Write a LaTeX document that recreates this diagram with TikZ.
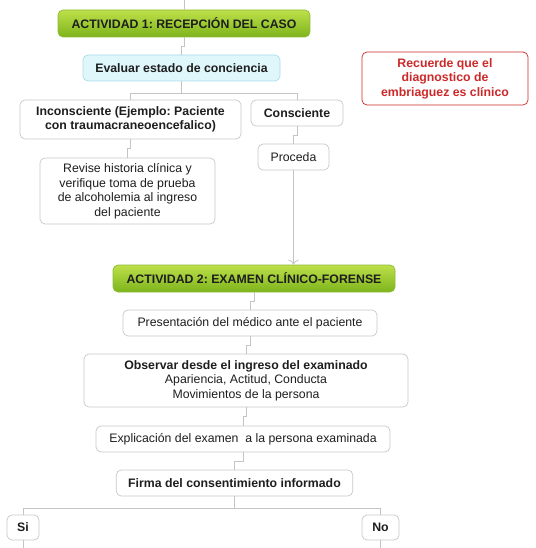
\documentclass[tikz,border=0pt]{standalone}
\usepackage{fontspec}
\setmainfont{Liberation Sans}
\usetikzlibrary{arrows.meta}

\definecolor{linegray}{HTML}{C4C4C4}
\definecolor{boxgray}{HTML}{C8C8C8}
\definecolor{textgray}{HTML}{1E1E1E}
\definecolor{acttop}{HTML}{BDE04A}
\definecolor{actbottom}{HTML}{7DB41C}
\definecolor{actborder}{HTML}{8DBB3A}
\definecolor{evalfill}{HTML}{DFF6FB}
\definecolor{evalborder}{HTML}{A8DCE8}
\definecolor{notered}{HTML}{CC2A2A}

\newcommand{\boxfont}{\frenchspacing\fontsize{12.3}{14.5}\selectfont}

\tikzset{
  box/.style={draw=boxgray, line width=0.7pt, rounded corners=5pt, fill=white,
    align=center, inner xsep=12pt, inner ysep=4pt, minimum height=26pt,
    font=\boxfont, text=textgray},
  boldbox/.style={box, font=\boxfont\bfseries},
  activity/.style={box, draw=actborder, top color=acttop, bottom color=actbottom,
    font=\boxfont\bfseries, minimum height=27pt},
  conn/.style={draw=linegray, line width=0.8pt},
}

\begin{document}
\begin{tikzpicture}[x=1pt,y=-1pt]
\useasboundingbox (0,0) rectangle (535,548);

% Nodes
\coordinate (top) at (184,0);
\coordinate (bottom) at (0,548);
\node[activity, minimum width=252pt] (act1) at (184,23.5) {ACTIVIDAD 1: RECEPCIÓN DEL CASO};
\node[boldbox, fill=evalfill, draw=evalborder, minimum width=197pt] (eval) at (181.5,68) {Evaluar estado de conciencia};
\node[boldbox, minimum width=221pt, minimum height=39pt] (inc) at (130.5,119.5) {Inconsciente (Ejemplo: Paciente\\con traumacraneoencefalico)};
\node[boldbox, minimum width=92pt] (con) at (297,113) {Consciente};
\node[box, minimum width=175pt, minimum height=66pt] (rev) at (127.5,191) {Revise historia clínica y\\verifique toma de prueba\\de alcoholemia al ingreso\\del paciente};
\node[box, minimum width=71pt] (proc) at (293.5,157) {Proceda};
\node[boldbox, draw=notered, text=notered, minimum width=166pt, minimum height=53pt] (rec) at (445,78.5) {Recuerde que el\\diagnostico de\\embriaguez es clínico};
\node[activity, minimum width=282pt] (act2) at (254,278.5) {ACTIVIDAD 2: EXAMEN CLÍNICO-FORENSE};
\node[box, minimum width=254pt] (pres) at (250,323) {Presentación del médico ante el paciente};
\node[box, minimum width=324pt, minimum height=53pt] (obs) at (246,380.5) {\textbf{Observar desde el ingreso del examinado}\\Apariencia, Actitud, Conducta\\Movimientos de la persona};
\node[box, minimum width=294pt] (expl) at (243,439) {Explicación del examen\ \ a la persona examinada};
\node[boldbox, minimum width=233pt] (firma) at (234.5,483) {Firma del consentimiento informado};
\node[boldbox, inner xsep=6pt, minimum width=32pt, minimum height=25pt] (si) at (23,527.5) {Si};
\node[boldbox, inner xsep=6pt, minimum width=37pt, minimum height=25pt] (no) at (380.5,527.5) {No};

% Arrows
\draw[conn] (act1.north |- top) -- (act1.north);
\draw[conn] (act1.south) -- ++(0,9) -| (eval.north);
\draw[conn] (eval.south) -- ++(0,12) -| (inc.north);
\draw[conn] (eval.south) -- ++(0,12) -| (con.north);
\draw[conn] (inc.south) -- ++(0,9) -| (rev.north);
\draw[conn] (con.south) -- ++(0,9) -| (proc.north);
\draw[conn, -{To[length=5pt]}] (proc.south) -- (proc.south |- act2.north);
\draw[conn] (act2.south) -- ++(0,9) -| (pres.north);
\draw[conn] (pres.south) -- ++(0,9) -| (obs.north);
\draw[conn] (obs.south) -- ++(0,9) -| (expl.north);
\draw[conn] (expl.south) -- ++(0,9) -| (firma.north);
\draw[conn] (firma.south) -- ++(0,12) -| (si.north);
\draw[conn] (firma.south) -- ++(0,12) -| (no.north);
\draw[conn] (si.south) -- (si.south |- bottom);
\draw[conn] (no.south) -- (no.south |- bottom);

\end{tikzpicture}
\end{document}
